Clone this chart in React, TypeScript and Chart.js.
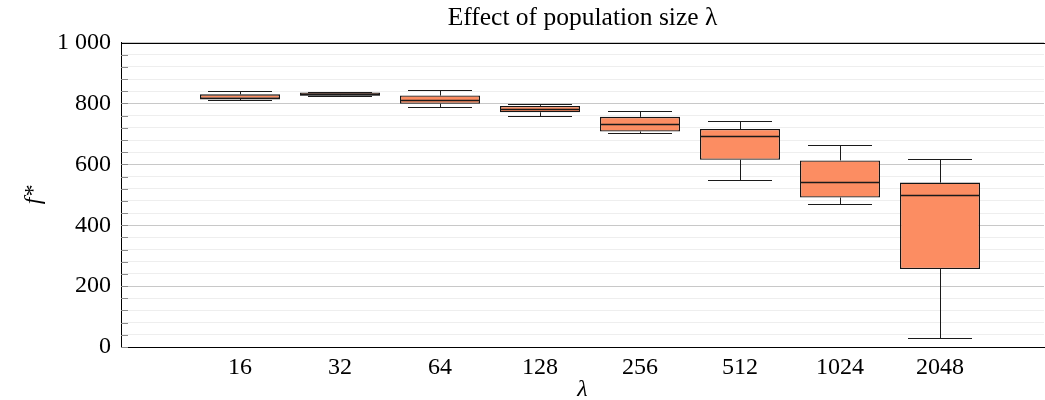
import React, { useEffect, useRef } from 'react';
import { Chart, registerables } from 'chart.js';

Chart.register(...registerables);

const categories = ['16', '32', '64', '128', '256', '512', '1024', '2048'];
const whiskerLow = [813, 823, 789, 760, 703, 549, 470, 28];
const q1 = [815, 825, 799, 771, 708, 615, 491, 256];
const median = [818, 831, 812, 783, 731, 694, 543, 500];
const q3 = [830, 836, 826, 792, 756, 716, 613, 540];
const whiskerHigh = [840, 839, 844, 797, 775, 741, 665, 617];
const yTickValues = [0, 200, 400, 600, 800, 1000];
const yTickLabels = ['0', '200', '400', '600', '800', '1 000'];

const FONT = "'Liberation Serif', 'Times New Roman', serif";

const boxPlugin = {
  id: 'boxExtras',
  afterLayout(chart: any) {
    // centre the title over the plot area, as in the reference
    const tb = chart.titleBlock;
    if (tb) {
      tb.left = chart.chartArea.left;
      tb.right = chart.chartArea.right;
    }
  },
  afterDatasetsDraw(chart: any) {
    const { ctx } = chart;
    const xs = chart.scales.x;
    const ys = chart.scales.y;
    ctx.save();
    ctx.strokeStyle = '#1a1a1a';
    ctx.lineWidth = 1;
    categories.forEach((_, i) => {
      const cx = Math.round(xs.getPixelForValue(i)) + 0.5;
      const capL = xs.getPixelForValue(i - 0.32);
      const capR = xs.getPixelForValue(i + 0.32);
      const boxL = xs.getPixelForValue(i - 0.4);
      const boxR = xs.getPixelForValue(i + 0.4);
      const yHi = Math.round(ys.getPixelForValue(whiskerHigh[i])) + 0.5;
      const yLo = Math.round(ys.getPixelForValue(whiskerLow[i])) + 0.5;
      const yQ1 = ys.getPixelForValue(q1[i]);
      const yQ3 = ys.getPixelForValue(q3[i]);
      const yMed = Math.round(ys.getPixelForValue(median[i])) + 0.5;
      ctx.beginPath();
      ctx.moveTo(cx, yQ3);
      ctx.lineTo(cx, yHi);
      ctx.moveTo(capL, yHi);
      ctx.lineTo(capR, yHi);
      ctx.moveTo(cx, yQ1);
      ctx.lineTo(cx, yLo);
      ctx.moveTo(capL, yLo);
      ctx.lineTo(capR, yLo);
      ctx.stroke();
      ctx.beginPath();
      ctx.lineWidth = 1.3;
      ctx.moveTo(boxL, yMed);
      ctx.lineTo(boxR, yMed);
      ctx.stroke();
      ctx.lineWidth = 1;
    });
    ctx.restore();
  },
  afterDraw(chart: any) {
    const { ctx, chartArea } = chart;
    const ys = chart.scales.y;
    ctx.save();
    ctx.strokeStyle = '#8a8a8a';
    ctx.lineWidth = 1;
    ys.ticks.forEach((t: any) => {
      const py = Math.round(ys.getPixelForValue(t.value)) + 0.5;
      ctx.beginPath();
      ctx.moveTo(chartArea.left, py);
      ctx.lineTo(chartArea.left + 7, py);
      ctx.stroke();
    });
    ctx.strokeStyle = '#000';
    ctx.beginPath();
    const ty = Math.round(chartArea.top) + 0.5;
    ctx.moveTo(chartArea.left, ty);
    ctx.lineTo(chartArea.right + 1, ty);
    ctx.stroke();
    ctx.restore();
  },
};

export default function App() {
  const ref = useRef<HTMLCanvasElement | null>(null);
  useEffect(() => {
    if (!ref.current) return;
    const chart = new Chart(ref.current, {
      type: 'bar',
      data: {
        datasets: [
          {
            data: categories.map((_, i) => ({ x: i, y: [q1[i], q3[i]] })) as any,
            backgroundColor: '#fc8d62',
            borderColor: '#151515',
            borderWidth: 1.3,
            borderSkipped: false,
            categoryPercentage: 0.8,
            barPercentage: 1,
          },
        ],
      },
      options: {
        animation: false,
        responsive: false,
        devicePixelRatio: 1,
        layout: { padding: { left: 0, right: 1, top: 0, bottom: 0 } },
        plugins: {
          legend: { display: false },
          tooltip: { enabled: false },
          title: {
            display: true,
            text: 'Effect of population size λ',
            color: '#000',
            font: { family: FONT, size: 25.5, weight: 'normal' },
            padding: { top: 3, bottom: 9 },
          },
        },
        scales: {
          x: {
            type: 'linear',
            offset: false,
            min: -1.19,
            max: 8.04,
            afterBuildTicks: (scale: any) => {
              scale.ticks = categories.map((_, i) => ({ value: i }));
            },
            afterFit: (scale: any) => {
              scale.height = 53;
            },
            grid: { display: false, drawTicks: false, offset: false },
            border: { display: true, color: '#000', width: 1 },
            ticks: {
              color: '#000',
              font: { family: FONT, size: 24 },
              padding: 6,
              autoSkip: false,
              maxRotation: 0,
              callback: (v: any) => categories[v as number] ?? '',
            },
            title: {
              display: true,
              text: 'λ',
              color: '#000',
              font: { family: FONT, size: 24, style: 'italic' },
              padding: { top: 0, bottom: -4 },
            },
          },
          y: {
            type: 'linear',
            min: 0,
            max: 1000,
            afterFit: (scale: any) => {
              scale.width = 121;
            },
            grid: {
              drawTicks: false,
              color: (c: any) => {
                const v = c.tick ? c.tick.value : 0;
                return yTickValues.includes(v) ? '#c8c8c8' : '#eeeeee';
              },
            },
            border: { display: true, color: '#000', width: 1 },
            ticks: {
              stepSize: 40,
              autoSkip: false,
              color: '#000',
              padding: 10,
              font: { family: FONT, size: 24 },
              callback: (v: any) => {
                const idx = yTickValues.indexOf(v as number);
                return idx >= 0 ? yTickLabels[idx] : '';
              },
            },
            title: {
              display: true,
              text: 'f*',
              color: '#000',
              font: { family: FONT, size: 24, style: 'italic' },
              padding: { top: 19, bottom: 0 },
            },
          },
        },
      },
      plugins: [boxPlugin],
    });
    return () => chart.destroy();
  }, []);
  return (
    <div style={{ position: 'absolute', left: 0, top: 0, width: 1045, height: 400, background: '#fff' }}>
      <canvas ref={ref} width={1045} height={400} />
    </div>
  );
}
